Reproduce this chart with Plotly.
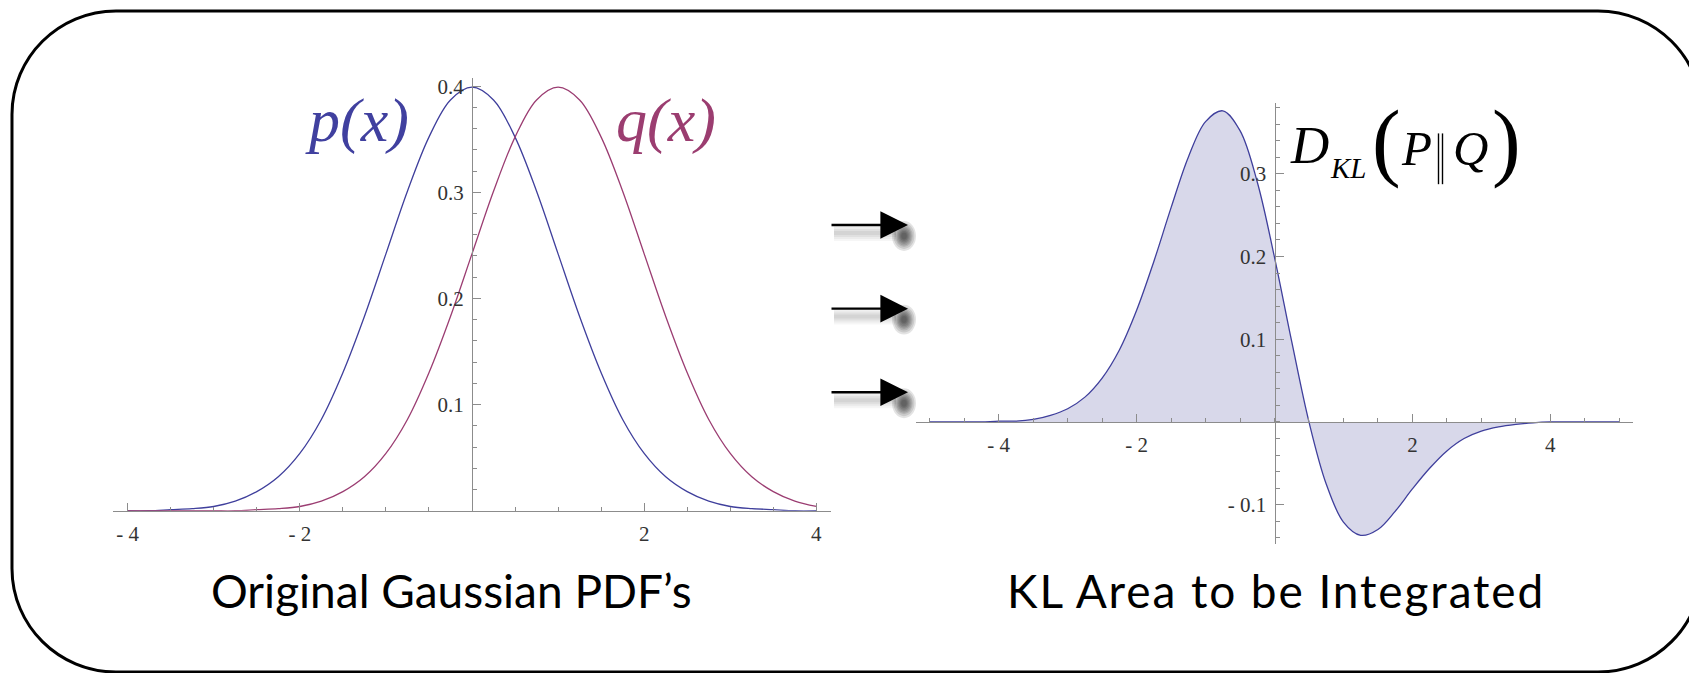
import plotly.graph_objects as go

W, H = 1689, 673

# ---- data -------------------------------------------------------------
x_pdf = [-4.0, -3.75, -3.5, -3.25, -3.0, -2.75, -2.5, -2.25, -2.0, -1.75, -1.5,
         -1.25, -1.0, -0.75, -0.5, -0.25, 0.0, 0.25, 0.5, 0.75, 1.0, 1.25, 1.5,
         1.75, 2.0, 2.25, 2.5, 2.75, 3.0, 3.25, 3.5, 3.75, 4.0]
p_vals = [0.000, 0.000, 0.001, 0.002, 0.004, 0.009, 0.018, 0.032, 0.054, 0.086, 0.130,
          0.183, 0.242, 0.301, 0.352, 0.387, 0.399, 0.387, 0.352, 0.301, 0.242, 0.183,
          0.130, 0.086, 0.054, 0.032, 0.018, 0.009, 0.004, 0.002, 0.001, 0.000, 0.000]
q_vals = [0.000, 0.000, 0.000, 0.000, 0.000, 0.000, 0.001, 0.002, 0.004, 0.009, 0.018,
          0.032, 0.054, 0.086, 0.130, 0.183, 0.242, 0.301, 0.352, 0.387, 0.399, 0.387,
          0.352, 0.301, 0.242, 0.183, 0.130, 0.086, 0.054, 0.032, 0.018, 0.009, 0.004]

x_kl = [-5.0, -4.75, -4.5, -4.25, -4.0, -3.75, -3.5, -3.25, -3.0, -2.75, -2.5,
        -2.25, -2.0, -1.75, -1.5, -1.25, -1.0, -0.75, -0.5, -0.25, 0.0, 0.25,
        0.5, 0.75, 1.0, 1.25, 1.5, 1.75, 2.0, 2.25, 2.5, 2.75, 3.0, 3.25, 3.5,
        3.75, 4.0, 4.25, 4.5, 4.75, 5.0]
kl_vals = [0.000, 0.000, 0.000, 0.000, 0.001, 0.001, 0.003, 0.008, 0.016, 0.030, 0.053,
           0.087, 0.135, 0.194, 0.259, 0.320, 0.363, 0.376, 0.352, 0.290, 0.199, 0.097,
           0.000, -0.075, -0.121, -0.137, -0.130, -0.108, -0.081, -0.056, -0.035, -0.020,
           -0.011, -0.006, -0.003, -0.001, 0.000, 0.000, 0.000, 0.000, 0.000]

left_xticks = [-4, -2, 2, 4]
left_xlabels = ["- 4", "- 2", "2", "4"]
left_yticks = [0.1, 0.2, 0.3, 0.4]
left_ylabels = ["0.1", "0.2", "0.3", "0.4"]
right_xticks = [-4, -2, 2, 4]
right_xlabels = ["- 4", "- 2", "2", "4"]
right_yticks = [-0.1, 0.1, 0.2, 0.3]
right_ylabels = ["- 0.1", "0.1", "0.2", "0.3"]

# ---- styling ----------------------------------------------------------
BLUE = "#3f3f9c"
MAGENTA = "#9b3d72"
FILL = "rgba(216,216,234,1)"
AXIS = "#8c8c8c"
TICKFONT = dict(family="Liberation Serif", size=21, color="#333333")


def px_x(v):
    return v / W


def px_y(v):
    return 1 - v / H


fig = go.Figure()

fig.add_trace(go.Scatter(x=x_pdf, y=p_vals, mode="lines",
                         line=dict(color=BLUE, width=1.3, shape="spline", smoothing=1.0),
                         xaxis="x", yaxis="y", hoverinfo="skip"))
fig.add_trace(go.Scatter(x=x_pdf, y=q_vals, mode="lines",
                         line=dict(color=MAGENTA, width=1.3, shape="spline", smoothing=1.0),
                         xaxis="x", yaxis="y", hoverinfo="skip"))
fig.add_trace(go.Scatter(x=x_kl, y=kl_vals, mode="lines", fill="tozeroy", fillcolor=FILL,
                         line=dict(color=BLUE, width=1.3, shape="spline", smoothing=1.0),
                         xaxis="x2", yaxis="y2", hoverinfo="skip"))


def axis_style(**kw):
    base = dict(showline=True, linecolor=AXIS, linewidth=1.3, showgrid=False,
                zeroline=False, ticks="inside", ticklen=8, tickwidth=1, tickcolor=AXIS,
                tickmode="array", tickfont=TICKFONT, fixedrange=True,
                ticklabelstandoff=4)
    base.update(kw)
    return base


fig.update_layout(
    width=W, height=H,
    margin=dict(l=0, r=0, t=0, b=0),
    paper_bgcolor="white", plot_bgcolor="rgba(0,0,0,0)",
    showlegend=False,
    xaxis=axis_style(domain=[px_x(113), px_x(831)], range=[-4.17, 4.17], anchor="y",
                     tickvals=left_xticks, ticktext=left_xlabels,
                     minor=dict(ticks="inside", ticklen=4, tickcolor=AXIS, dtick=0.5, tick0=0)),
    yaxis=axis_style(domain=[px_y(510), px_y(75)], range=[0, 0.408], anchor="free",
                     position=px_x(472), tickvals=left_yticks, ticktext=left_ylabels,
                     minor=dict(ticks="inside", ticklen=4, tickcolor=AXIS, dtick=0.02, tick0=0)),
    xaxis2=axis_style(domain=[px_x(916), px_x(1633)], range=[-5.2, 5.2], anchor="free",
                      position=px_y(420.7), tickvals=right_xticks, ticktext=right_xlabels,
                      minor=dict(ticks="inside", ticklen=4, tickcolor=AXIS, dtick=0.5, tick0=0)),
    yaxis2=axis_style(domain=[px_y(543), px_y(100)], range=[-0.147, 0.386], anchor="free",
                      position=px_x(1274.5), tickvals=right_yticks, ticktext=right_ylabels,
                      minor=dict(ticks="inside", ticklen=4, tickcolor=AXIS, dtick=0.02, tick0=0)),
)

shapes = []

# rounded frame around both panels
x0, x1, y0, y1, r = 12, 1702, 8, 672, 104
k = 0.5523 * r


def P(x, y):
    return f"{px_x(x):.5f},{px_y(y):.5f}"


frame = (f"M {P(x0 + r, y0)} L {P(x1 - r, y0)} "
         f"C {P(x1 - r + k, y0)} {P(x1, y0 + r - k)} {P(x1, y0 + r)} "
         f"L {P(x1, y1 - r)} "
         f"C {P(x1, y1 - r + k)} {P(x1 - r + k, y1)} {P(x1 - r, y1)} "
         f"L {P(x0 + r, y1)} "
         f"C {P(x0 + r - k, y1)} {P(x0, y1 - r + k)} {P(x0, y1 - r)} "
         f"L {P(x0, y0 + r)} "
         f"C {P(x0, y0 + r - k)} {P(x0 + r - k, y0)} {P(x0 + r, y0)} Z")
shapes.append(dict(type="path", path=frame, xref="paper", yref="paper",
                   line=dict(color="black", width=3), layer="above"))

# soft drop shadows under the three arrows
for ay in (223, 307, 391):
    for w, a in ((16, 0.035), (12, 0.04), (8, 0.05), (4, 0.05)):
        shapes.append(dict(type="line", xref="paper", yref="paper",
                           x0=px_x(834), x1=px_x(896), y0=px_y(ay + 8), y1=px_y(ay + 8),
                           line=dict(color=f"rgba(0,0,0,{a})", width=w), layer="below"))
    cx, cy = 904, ay + 11
    for rr in (15, 13, 11, 9.5, 8, 6.5, 5, 3.5):
        shapes.append(dict(type="circle", xref="paper", yref="paper",
                           x0=px_x(cx - rr * 0.8), x1=px_x(cx + rr * 0.8),
                           y0=px_y(cy + rr), y1=px_y(cy - rr),
                           fillcolor="rgba(0,0,0,0.11)", line=dict(width=0), layer="below"))

# double bar of the divergence symbol
for bx in (1438.5, 1442.5):
    shapes.append(dict(type="line", xref="paper", yref="paper",
                       x0=px_x(bx), x1=px_x(bx), y0=px_y(131), y1=px_y(182),
                       line=dict(color="black", width=1.4)))

fig.update_layout(shapes=shapes)

ann = []

# arrows between the panels
for ay in (223, 307, 391):
    ann.append(dict(xref="paper", yref="paper", x=px_x(908), y=px_y(ay),
                    ax=-78, ay=0, axref="pixel", ayref="pixel",
                    text="", showarrow=True, arrowhead=2, arrowsize=2.3,
                    arrowwidth=2.4, arrowcolor="black"))


def label(text, x, y, size, color="black", family="Liberation Serif"):
    ann.append(dict(xref="paper", yref="paper", x=px_x(x), y=px_y(y), text=text,
                    showarrow=False, xanchor="center", yanchor="middle",
                    font=dict(family=family, size=size, color=color)))


label("<i>p(x)</i>", 357, 118, 62, color="#40409f")
label("<i>q(x)</i>", 666, 118, 62, color="#9b3d70")

label("<i>D</i>", 1309, 143, 53)
label("<i>KL</i>", 1348, 166, 29)
label("(", 1386, 139, 86)
label("<i>P</i>", 1416, 146, 49)
label("<i>Q</i>", 1470, 146, 49)
label(")", 1506, 139, 86)

label("Original Gaussian PDF’s", 451, 590, 46, family="Lato")
label('<span style="letter-spacing:1.9px">KL Area to be Integrated</span>',
      1276, 590, 46, family="Lato")

fig.update_layout(annotations=ann)

fig.write_html("out.html", config={"displayModeBar": False})
